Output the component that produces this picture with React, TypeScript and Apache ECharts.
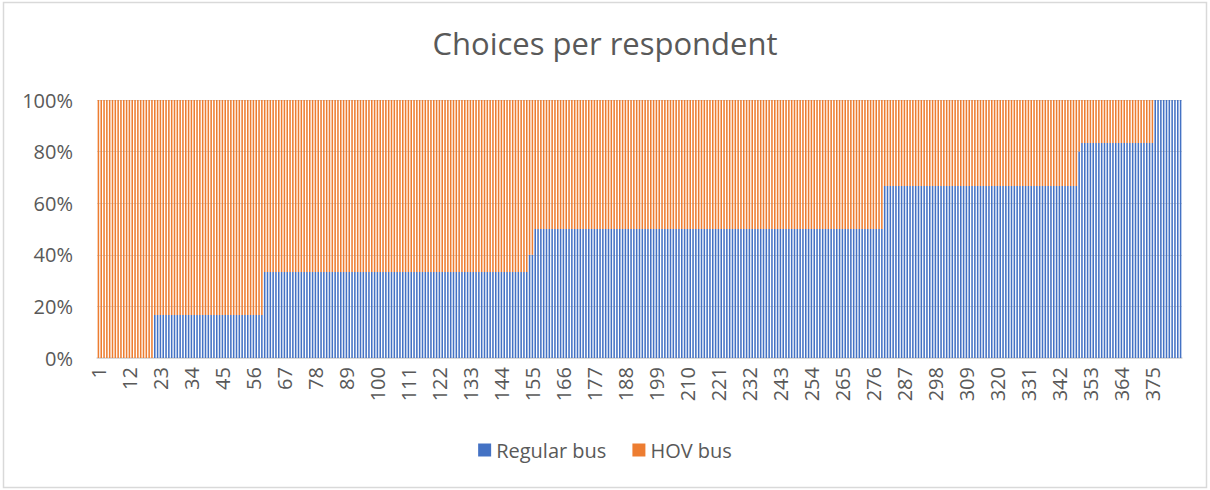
import React, { useEffect, useRef } from "react";
import * as echarts from "echarts";

const regularLevels = [0, 16.67, 33.33, 40, 50, 66.67, 80, 83.33, 100];
const hovLevels = [100, 83.33, 66.67, 60, 50, 33.33, 20, 16.67, 0];
const runLengths = [20, 39, 94, 2, 124, 69, 1, 26, 10];

const seriesNames = ["Regular bus", "HOV bus"];
const seriesColors = ["#4472C4", "#ED7D31"];
const yTicks = [0, 20, 40, 60, 80, 100];

function expand(levels: number[], counts: number[]): number[] {
  const out: number[] = [];
  levels.forEach((v, i) => {
    for (let k = 0; k < counts[i]; k++) out.push(v);
  });
  return out;
}

const regularData = expand(regularLevels, runLengths);
const hovData = expand(hovLevels, runLengths);
const categories = regularData.map((_, i) => String(i + 1));

const FONT = "'Open Sans', 'Noto Sans', sans-serif";
const TEXT = "#595959";

export default function App() {
  const ref = useRef<HTMLDivElement>(null);
  useEffect(() => {
    document.body.style.margin = "0";
    if (!ref.current) return;
    const chart = echarts.init(ref.current, undefined, { renderer: "svg" });
    chart.setOption({
      animation: false,
      backgroundColor: "#ffffff",
      textStyle: { fontFamily: FONT },
      title: {
        text: "Choices per respondent",
        left: "center",
        top: 27,
        padding: 0,
        textStyle: { fontFamily: FONT, fontSize: 31, fontWeight: "normal", color: TEXT },
      },
      graphic: [
        {
          type: "rect",
          shape: { x: 3.5, y: 2.5, width: 1203, height: 485 },
          style: { fill: "none", stroke: "#d9d9d9", lineWidth: 1.5 },
          silent: true,
        },
      ],
      legend: {
        data: seriesNames,
        bottom: 25,
        left: "center",
        icon: "rect",
        itemWidth: 13,
        itemHeight: 13,
        itemGap: 26,
        textStyle: { fontFamily: FONT, fontSize: 20, color: TEXT },
      },
      grid: { left: 97, right: 28, top: 100, bottom: 132, containLabel: false },
      xAxis: {
        type: "category",
        data: categories,
        axisLine: { lineStyle: { color: "#d9d9d9", width: 1.5 } },
        axisTick: { show: false },
        axisLabel: {
          interval: 10,
          rotate: 90,
          margin: 9,
          fontFamily: FONT,
          fontSize: 20,
          color: TEXT,
        },
      },
      yAxis: {
        type: "value",
        min: yTicks[0],
        max: yTicks[yTicks.length - 1],
        interval: 20,
        axisLine: { show: false },
        axisTick: { show: false },
        splitLine: { lineStyle: { color: "#d9d9d9", width: 1 } },
        axisLabel: {
          formatter: "{value}%",
          margin: 24,
          fontFamily: FONT,
          fontSize: 20,
          color: TEXT,
        },
      },
      series: [
        {
          name: seriesNames[0],
          type: "bar",
          stack: "total",
          data: regularData,
          barCategoryGap: "45%",
          itemStyle: { color: seriesColors[0] },
        },
        {
          name: seriesNames[1],
          type: "bar",
          stack: "total",
          data: hovData,
          barCategoryGap: "45%",
          itemStyle: { color: seriesColors[1] },
        },
      ],
    });
    return () => chart.dispose();
  }, []);
  return <div ref={ref} style={{ width: 1210, height: 490 }} />;
}
